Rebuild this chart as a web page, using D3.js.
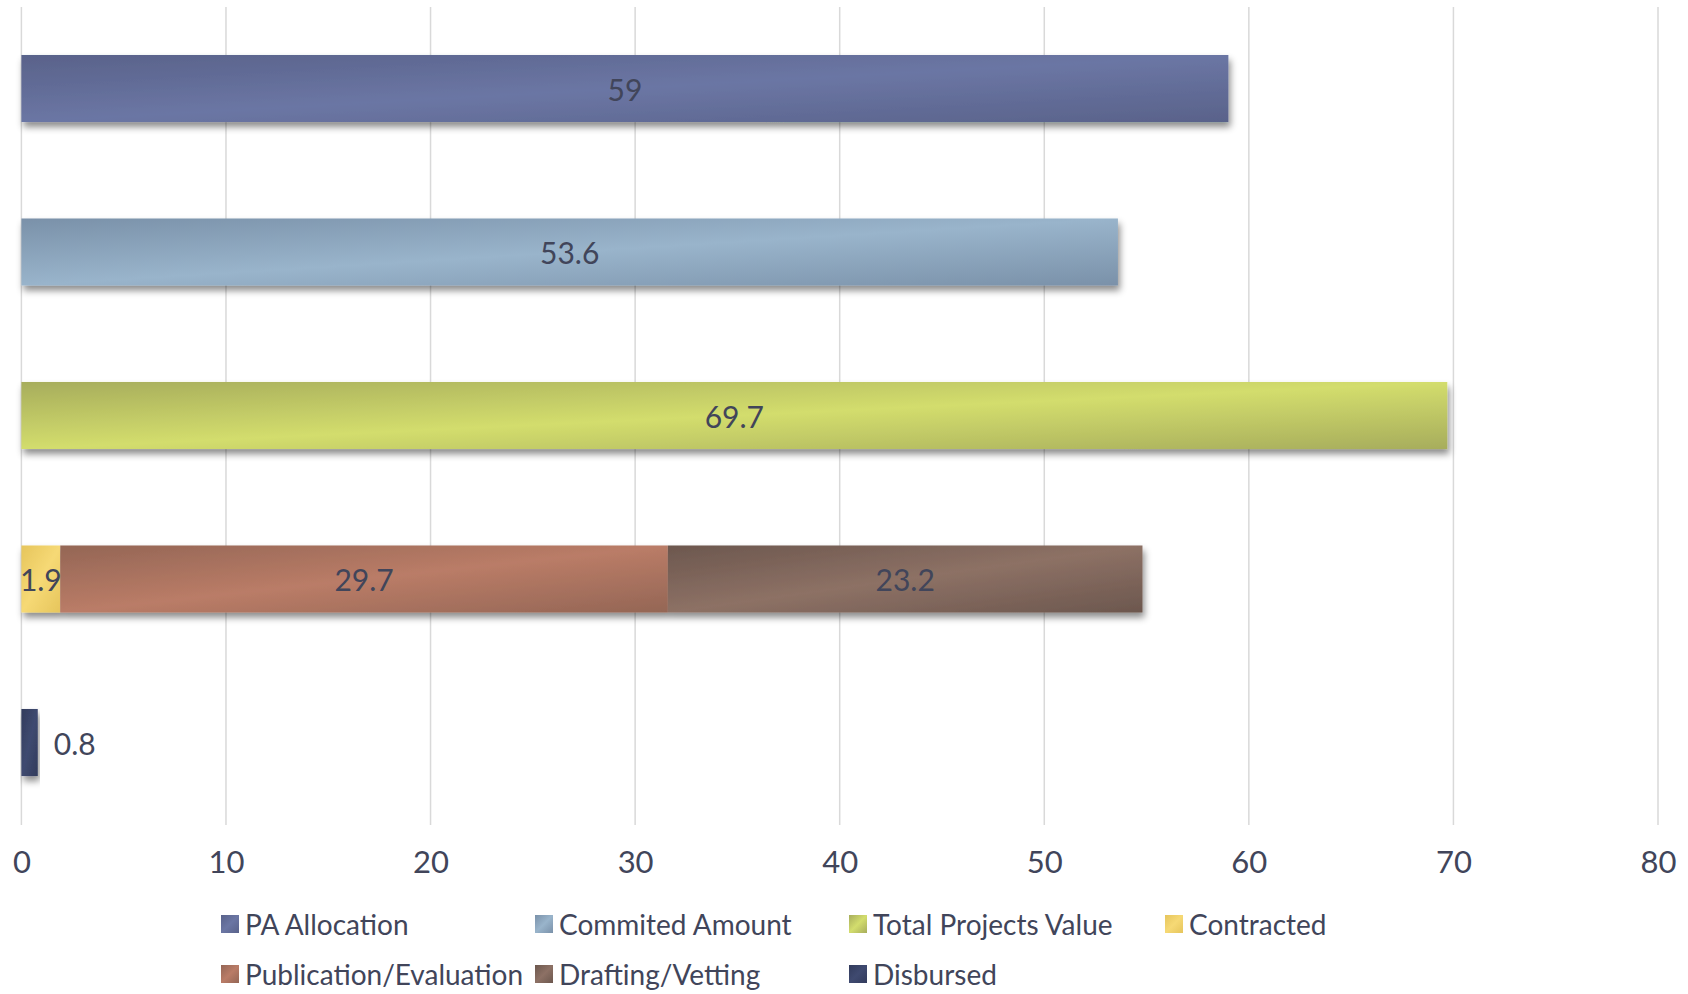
<!DOCTYPE html>
<html>
<head>
<meta charset="utf-8">
<script src="https://cdn.jsdelivr.net/npm/d3@7"></script>
<style>
  html, body { margin: 0; padding: 0; background: #ffffff; }
  svg { display: block; }
  text { font-family: "Lato", "Open Sans", "DejaVu Sans", sans-serif; fill: #41455a; }
</style>
</head>
<body>
<svg id="chart" width="1688" height="994"></svg>
<script>
// ---- Data ----
const rows = ["PA Allocation", "Commited Amount", "Total Projects Value", "Contracting Status", "Disbursed"];
const seriesNames = ["PA Allocation", "Commited Amount", "Total Projects Value", "Contracted", "Publication/Evaluation", "Drafting/Vetting", "Disbursed"];
const seriesRow = ["PA Allocation", "Commited Amount", "Total Projects Value", "Contracting Status", "Contracting Status", "Contracting Status", "Disbursed"];
const seriesValues = [59, 53.6, 69.7, 1.9, 29.7, 23.2, 0.8];
const darkColors = ["#59628a", "#7a91a9", "#a7ad5c", "#e6c55c", "#946655", "#6c574e", "#323b5c"];
const lightColors = ["#6b76a4", "#99b4cb", "#d3dd6d", "#f6d975", "#ba7c67", "#8d7165", "#3f4a70"];
const xTicks = [0, 10, 20, 30, 40, 50, 60, 70, 80];
const legendOrder = ["PA Allocation", "Commited Amount", "Total Projects Value", "Contracted", "Publication/Evaluation", "Drafting/Vetting", "Disbursed"];

// ---- Build stacked records ----
const offsets = {};
const records = seriesNames.map((name, i) => {
  const row = seriesRow[i];
  const start = offsets[row] || 0;
  offsets[row] = start + seriesValues[i];
  return { name, row, value: seriesValues[i], start, end: start + seriesValues[i], idx: i };
});

const svg = d3.select("#chart");
const x = d3.scaleLinear().domain([0, 80]).range([21.4, 1658]);
const y = d3.scaleBand().domain(rows).range([6.75, 824.25]).paddingInner(0.59).paddingOuter(0.295);

// ---- defs: gradients + shadow ----
const defs = svg.append("defs");
seriesNames.forEach((name, i) => {
  const g = defs.append("linearGradient")
    .attr("id", "grad" + i)
    .attr("x1", 0).attr("y1", 0).attr("x2", 1).attr("y2", 1);
  g.append("stop").attr("offset", "0%").attr("stop-color", darkColors[i]);
  g.append("stop").attr("offset", "50%").attr("stop-color", lightColors[i]);
  g.append("stop").attr("offset", "100%").attr("stop-color", darkColors[i]);
});
const f = defs.append("filter").attr("id", "shadow")
  .attr("x", "-5%").attr("y", "-20%").attr("width", "115%").attr("height", "160%");
f.append("feDropShadow").attr("dx", 2).attr("dy", 5).attr("stdDeviation", 3.5)
  .attr("flood-color", "#000").attr("flood-opacity", 0.45);

// ---- gridlines ----
svg.append("g")
  .selectAll("line")
  .data(xTicks)
  .join("line")
  .attr("x1", d => x(d)).attr("x2", d => x(d))
  .attr("y1", 7).attr("y2", 825)
  .attr("stroke", "#d9d9d9")
  .attr("stroke-width", 1.5);

// ---- x axis labels ----
const xAxis = d3.axisBottom(x).tickValues(xTicks).tickSize(0).tickPadding(0).tickFormat(d3.format("d"));
const axG = svg.append("g").attr("transform", "translate(0,851)").call(xAxis);
axG.select(".domain").remove();
axG.selectAll("text")
  .attr("font-size", 31)
  .attr("fill", "#41455a")
  .attr("font-family", "Lato, 'Open Sans', sans-serif")
  .attr("dy", "0.72em");

// ---- bars ----
const barG = svg.append("g");
barG.selectAll("g.row")
  .data(rows)
  .join("g")
  .attr("class", "row")
  .attr("filter", "url(#shadow)")
  .each(function (row) {
    d3.select(this).selectAll("rect")
      .data(records.filter(r => r.row === row))
      .join("rect")
      .attr("x", d => x(d.start))
      .attr("y", y(row))
      .attr("width", d => x(d.end) - x(d.start))
      .attr("height", y.bandwidth())
      .attr("fill", d => "url(#grad" + d.idx + ")");
  });

// ---- data labels ----
svg.append("g")
  .selectAll("text")
  .data(records)
  .join("text")
  .attr("x", d => d.row === "Disbursed" ? x(d.end) + 16 : (x(d.start) + x(d.end)) / 2)
  .attr("y", d => y(d.row) + y.bandwidth() / 2)
  .attr("text-anchor", d => d.row === "Disbursed" ? "start" : "middle")
  .attr("dominant-baseline", "central")
  .attr("font-size", 30)
  .text(d => d.value);

// ---- legend ----
const legendCols = [221, 535, 849, 1165];
const legendRows = [924, 974];
const lg = svg.append("g")
  .selectAll("g")
  .data(legendOrder)
  .join("g")
  .attr("transform", (d, i) => `translate(${legendCols[i % 4]},${legendRows[Math.floor(i / 4)]})`);
lg.append("rect")
  .attr("x", 0).attr("y", -9).attr("width", 18).attr("height", 18)
  .attr("fill", d => "url(#grad" + seriesNames.indexOf(d) + ")");
lg.append("text")
  .attr("x", 24).attr("y", 0)
  .attr("dominant-baseline", "central")
  .attr("font-size", 28)
  .text(d => d);
</script>
</body>
</html>
